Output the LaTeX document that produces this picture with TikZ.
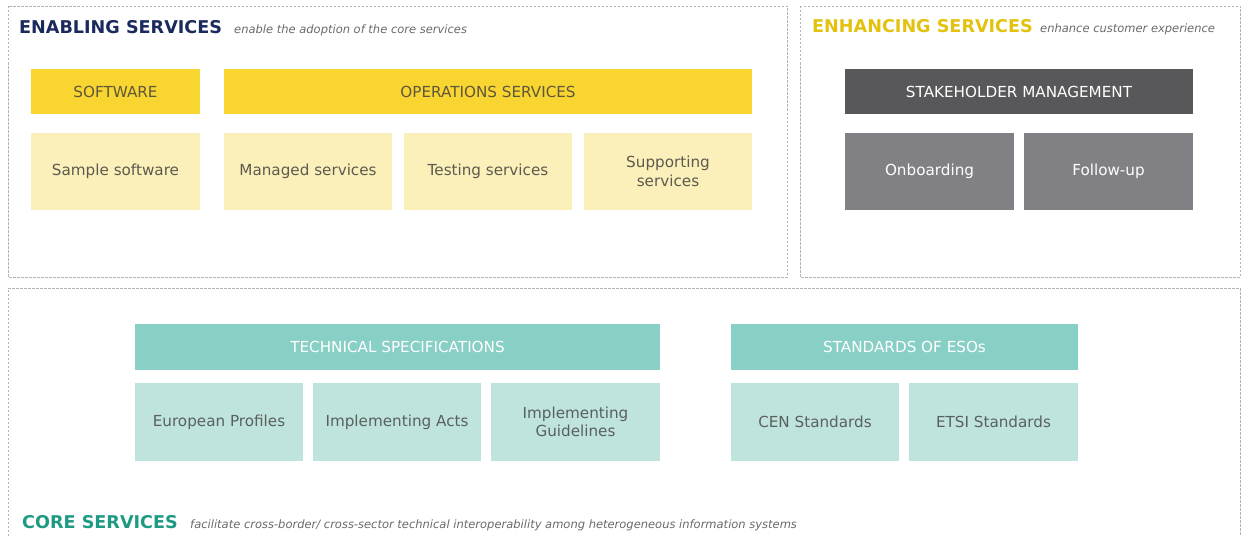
\documentclass[tikz,border=0pt]{standalone}
\usepackage{fontspec}
\setmainfont{DejaVu Sans}
\definecolor{yhead}{HTML}{F9D532}
\definecolor{ylight}{HTML}{FCF0BA}
\definecolor{ytext}{HTML}{5E573A}
\definecolor{ltext}{HTML}{5C5A4E}
\definecolor{ghead}{HTML}{58585A}
\definecolor{gbox}{HTML}{818185}
\definecolor{thead}{HTML}{88CFC6}
\definecolor{tlight}{HTML}{BFE4DE}
\definecolor{ttext}{HTML}{5A605E}
\definecolor{navy}{HTML}{1B2A5C}
\definecolor{gold}{HTML}{E3C20F}
\definecolor{teal}{HTML}{1E9A82}
\definecolor{dashc}{HTML}{B4B4B4}
\definecolor{subc}{HTML}{6A6A6A}
\tikzset{
  box/.style={rectangle, inner sep=0pt, align=center, font=\fontsize{15.2}{18.5}\selectfont},
  yh/.style={box, fill=yhead, text=ytext, minimum height=45pt},
  yl/.style={box, fill=ylight, text=ltext, minimum height=77pt, minimum width=169pt},
  gh/.style={box, fill=ghead, text=white, minimum height=45pt},
  gb/.style={box, fill=gbox, text=white, minimum height=77pt, minimum width=169pt},
  th/.style={box, fill=thead, text=white, minimum height=46pt},
  tl/.style={box, fill=tlight, text=ttext, minimum height=78pt, minimum width=168pt},
  frame/.style={draw=dashc, line width=0.8pt, dash pattern=on 2.5pt off 1.5pt},
  ttl/.style={anchor=base west, inner sep=0pt, font=\fontsize{17.6}{20}\selectfont\bfseries},
  sub/.style={anchor=base west, inner sep=0pt, text=subc, font=\fontsize{11.5}{13}\selectfont\itshape},
}
\begin{document}
\begin{tikzpicture}[x=1pt,y=-1pt]
\useasboundingbox[fill=white] (0,0) rectangle (1241,535);
% frames
\draw[frame] (8,6) rectangle (787,277);
\draw[frame] (800,6) rectangle (1240,277);
\draw[frame] (8,540) -- (8,288) -- (1240,288) -- (1240,540);
% titles
\node[ttl, text=navy] (t1) at (19,34) {ENABLING SERVICES};
\node[sub] (s1) at (234,34) {enable the adoption of the core services};
\node[ttl, text=gold] (t2) at (812,33) {ENHANCING SERVICES};
\node[sub] (s2) at (1040,33) {enhance customer experience};
\node[ttl, text=teal] (t3) at (22,528) {CORE SERVICES};
\node[sub] (s3) at (190,528) {facilitate cross-border/ cross-sector technical interoperability among heterogeneous information systems};
% enabling
\node[yh, minimum width=169pt] (sw) at (115.5,91.5) {SOFTWARE};
\node[yh, minimum width=528pt] (ops) at (488,91.5) {OPERATIONS SERVICES};
\node[yl] (samp) at (115.5,171.5) {Sample software};
\node[yl, minimum width=168pt] (man) at (308,171.5) {Managed services};
\node[yl, minimum width=168pt] (test) at (488,171.5) {Testing services};
\node[yl, minimum width=168pt] (supp) at (668,171.5) {Supporting\\services};
% enhancing
\node[gh, minimum width=348pt] (stake) at (1019,91.5) {STAKEHOLDER MANAGEMENT};
\node[gb] (onb) at (929.5,171.5) {Onboarding};
\node[gb] (fol) at (1108.5,171.5) {Follow-up};
% core
\node[th, minimum width=525pt] (tech) at (397.5,347) {TECHNICAL SPECIFICATIONS};
\node[tl] (eur) at (219,422) {European Profiles};
\node[tl] (acts) at (397,422) {Implementing Acts};
\node[tl, minimum width=169pt] (guid) at (575.5,422) {Implementing\\Guidelines};
\node[th, minimum width=347pt] (std) at (904.5,347) {STANDARDS OF ESOs};
\node[tl] (cen) at (815,422) {CEN Standards};
\node[tl, minimum width=169pt] (etsi) at (993.5,422) {ETSI Standards};
\end{tikzpicture}
\end{document}
